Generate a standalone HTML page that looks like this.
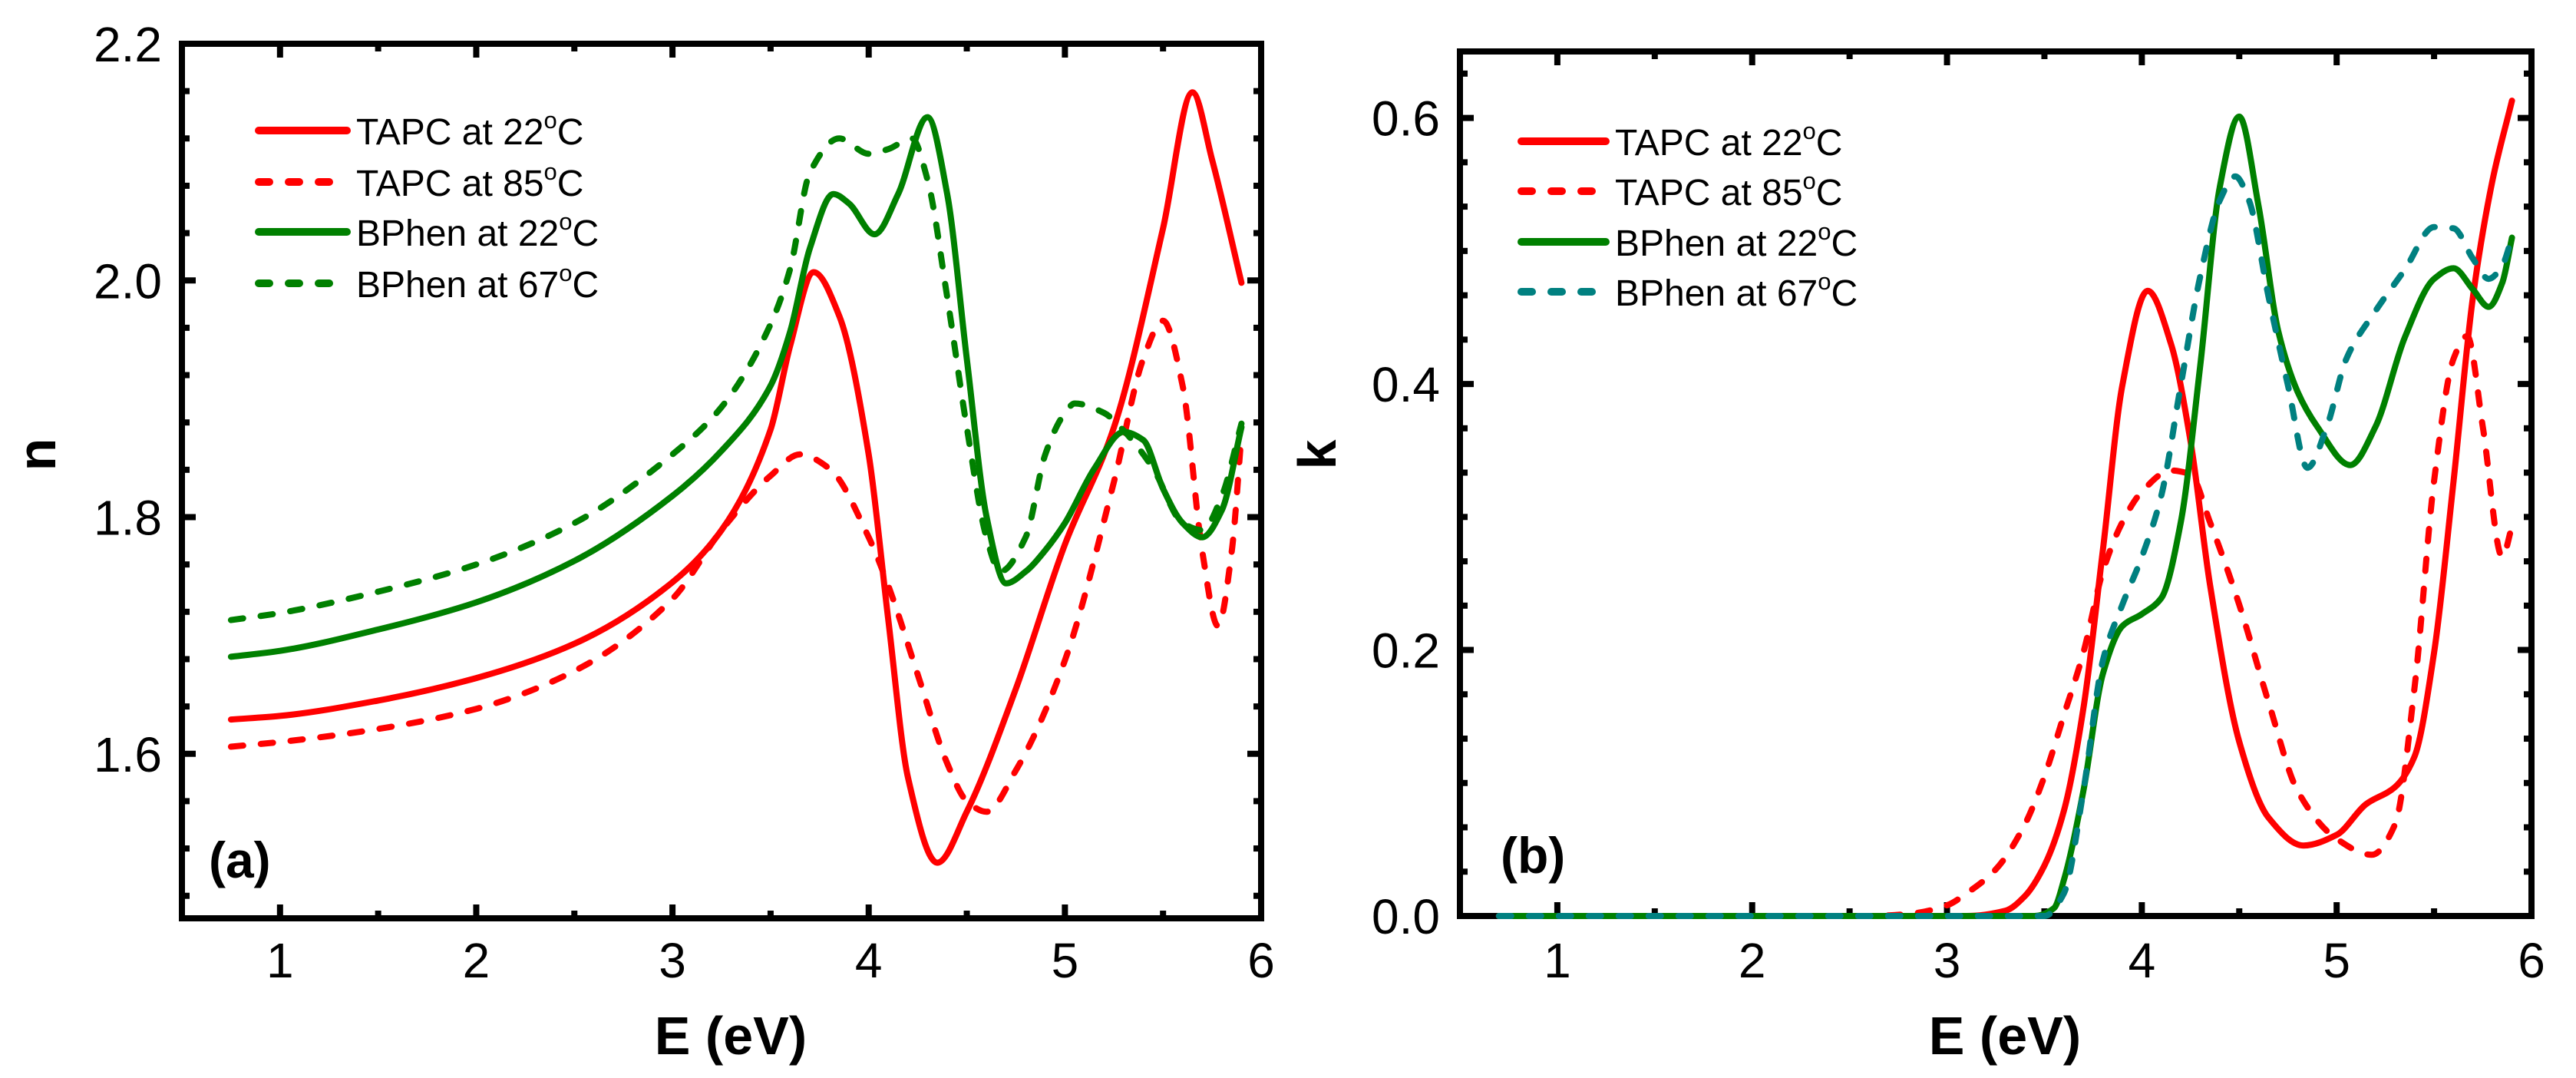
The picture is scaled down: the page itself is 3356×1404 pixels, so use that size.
<!DOCTYPE html>
<html><head><meta charset="utf-8"><style>
html,body{margin:0;padding:0;background:#fff;}
svg{display:block;font-family:"Liberation Sans",Arial,sans-serif;}
</style></head>
<body>
<svg id="fig" width="3356" height="1404" viewBox="0 0 3356 1404" xmlns="http://www.w3.org/2000/svg">
<g id="pa"></g>
<g id="pb"></g>
</svg>
<script>
// ---- Panel (a): refractive index n ----
const nTapc22X = [0.75,1.0,1.5,2.0,2.5,3.0,3.25,3.5,3.6,3.72,3.85,4.0,4.1,4.2,4.35,4.5,4.75,5.0,5.25,5.5,5.65,5.75,5.9];
const nTapc22Y = [1.629,1.632,1.645,1.664,1.693,1.745,1.789,1.874,1.945,2.007,1.970,1.853,1.713,1.580,1.508,1.551,1.655,1.777,1.876,2.044,2.159,2.102,1.998];
const nTapc85X = [0.75,1.0,1.5,2.0,2.5,3.0,3.25,3.5,3.65,3.8,4.0,4.1,4.25,4.4,4.5,4.6,4.75,5.0,5.25,5.4,5.5,5.6,5.7,5.78,5.85,5.9];
const nTapc85Y = [1.606,1.610,1.621,1.638,1.670,1.731,1.789,1.835,1.853,1.841,1.783,1.742,1.667,1.592,1.560,1.551,1.586,1.679,1.830,1.934,1.966,1.911,1.771,1.708,1.771,1.870];
const nBphen22X = [0.75,1.0,1.5,2.0,2.5,3.0,3.25,3.5,3.6,3.7,3.82,3.9,4.03,4.15,4.3,4.4,4.5,4.6,4.7,4.8,4.9,5.0,5.15,5.3,5.4,5.5,5.6,5.7,5.8,5.9];
const nBphen22Y = [1.682,1.687,1.705,1.728,1.763,1.818,1.856,1.911,1.957,2.027,2.073,2.065,2.039,2.073,2.138,2.073,1.934,1.801,1.744,1.754,1.772,1.795,1.841,1.872,1.865,1.824,1.795,1.783,1.806,1.876];
const nBphen67X = [0.75,1.0,1.5,2.0,2.5,3.0,3.25,3.5,3.6,3.7,3.85,4.0,4.1,4.22,4.3,4.4,4.5,4.6,4.67,4.8,4.9,5.0,5.05,5.2,5.3,5.45,5.6,5.7,5.8,5.9];
const nBphen67Y = [1.713,1.719,1.737,1.760,1.795,1.853,1.893,1.963,2.010,2.091,2.120,2.107,2.111,2.120,2.085,1.986,1.876,1.783,1.754,1.783,1.853,1.888,1.896,1.888,1.873,1.841,1.795,1.789,1.818,1.879];
const nTicks = [1.6,1.8,2.0,2.2];
const nTickLabels = ["1.6","1.8","2.0","2.2"];
const xTicks = [1,2,3,4,5,6];
const xTickLabels = ["1","2","3","4","5","6"];

// ---- Panel (b): extinction coefficient k ----
const kTapc22X = [0.7,3.1,3.3,3.4,3.5,3.6,3.7,3.8,3.9,4.03,4.15,4.25,4.35,4.5,4.65,4.83,5.0,5.15,5.3,5.4,5.5,5.6,5.7,5.8,5.9];
const kTapc22Y = [0,0,0.004,0.015,0.038,0.079,0.156,0.275,0.399,0.470,0.43,0.357,0.249,0.131,0.074,0.053,0.061,0.084,0.097,0.120,0.198,0.327,0.466,0.553,0.613];
const kTapc85X = [0.7,2.6,2.8,3.0,3.1,3.25,3.4,3.5,3.6,3.7,3.8,3.9,4.0,4.15,4.25,4.35,4.5,4.65,4.8,5.0,5.18,5.3,5.4,5.5,5.6,5.67,5.75,5.85,5.9];
const kTapc85Y = [0,0,0.0015,0.008,0.017,0.035,0.069,0.105,0.151,0.198,0.259,0.296,0.319,0.335,0.332,0.296,0.234,0.161,0.094,0.058,0.046,0.069,0.172,0.327,0.419,0.436,0.368,0.270,0.293];
const kBphen22X = [0.7,3.45,3.55,3.6,3.7,3.8,3.9,4.0,4.1,4.2,4.3,4.4,4.5,4.6,4.7,4.8,4.9,5.07,5.2,5.35,5.5,5.6,5.7,5.78,5.85,5.9];
const kBphen22Y = [0,0,0.006,0.027,0.094,0.182,0.218,0.227,0.239,0.296,0.414,0.548,0.601,0.533,0.440,0.394,0.368,0.339,0.368,0.435,0.479,0.487,0.471,0.458,0.476,0.510];
const kBphen67X = [0.7,3.5,3.6,3.7,3.8,3.9,4.0,4.1,4.2,4.3,4.4,4.48,4.55,4.65,4.75,4.85,4.95,5.05,5.2,5.35,5.5,5.6,5.7,5.78,5.85,5.9];
const kBphen67Y = [0,0,0.017,0.094,0.192,0.234,0.270,0.316,0.399,0.481,0.538,0.556,0.538,0.466,0.399,0.337,0.368,0.419,0.455,0.486,0.518,0.517,0.494,0.479,0.489,0.510];
const kTicks = [0.0,0.2,0.4,0.6];
const kTickLabels = ["0.0","0.2","0.4","0.6"];
const legendLabels = ["TAPC at 22","TAPC at 85","BPhen at 22","BPhen at 67"];

const NS = "http://www.w3.org/2000/svg";
function mk(parent, tag, attrs){
  const e = document.createElementNS(NS, tag);
  for (const k in attrs) e.setAttribute(k, attrs[k]);
  parent.appendChild(e);
  return e;
}
function smoothPath(pts){
  const n = pts.length;
  const dx=[], s=[];
  for (let i=0;i<n-1;i++){ dx[i]=pts[i+1][0]-pts[i][0]; s[i]=(pts[i+1][1]-pts[i][1])/dx[i]; }
  const m=[s[0]];
  for (let i=1;i<n-1;i++){
    if (s[i-1]*s[i]<=0) m[i]=0;
    else { const w1=2*dx[i]+dx[i-1], w2=dx[i]+2*dx[i-1]; m[i]=(w1+w2)/(w1/s[i-1]+w2/s[i]); }
  }
  m[n-1]=s[n-2];
  let d = "M" + pts[0][0].toFixed(1) + "," + pts[0][1].toFixed(1);
  for (let i=0;i<n-1;i++){
    const h=dx[i]/3;
    d += "C"+(pts[i][0]+h).toFixed(1)+","+(pts[i][1]+m[i]*h).toFixed(1)+" "+(pts[i+1][0]-h).toFixed(1)+","+(pts[i+1][1]-m[i+1]*h).toFixed(1)+" "+pts[i+1][0].toFixed(1)+","+pts[i+1][1].toFixed(1);
  }
  return d;
}

function panel(g, cfg){
  const L=cfg.L, R=cfg.R, T=cfg.T, B=cfg.B;
  const sx = v => L + (v - 0.5)/(6 - 0.5)*(R-L);
  const sy = v => B - (v - cfg.ymin)/(cfg.ymax - cfg.ymin)*(B-T);
  const fr = mk(g,"rect",{x:L,y:T,width:R-L,height:B-T,fill:"none",stroke:"#000","stroke-width":8});
  
  
  for (let v=0.5; v<=6.001; v+=0.5){
    const major = Math.abs(v-Math.round(v))<1e-6;
    const len = major?18:10, x=sx(v);
    mk(g,"line",{x1:x,y1:B,x2:x,y2:B-len,stroke:"#000","stroke-width":8});
    mk(g,"line",{x1:x,y1:T,x2:x,y2:T+len,stroke:"#000","stroke-width":8});
  }
  xTicks.forEach((v,i)=>{
    const t = mk(g,"text",{x:sx(v),y:1273,"font-size":64,"text-anchor":"middle",fill:"#000"});
    t.textContent = xTickLabels[i];
    
    
  });
  const n = Math.round((cfg.ymax-cfg.ymin)/cfg.minor);
  for (let j=0;j<=n+1;j++){
    const v = cfg.yMinorStart + j*cfg.minor;
    if (v>cfg.ymax+1e-6) break;
    const major = cfg.ticks.some(t=>Math.abs(t-v)<1e-6);
    const len = major?18:10, y=sy(v);
    mk(g,"line",{x1:L,y1:y,x2:L+len,y2:y,stroke:"#000","stroke-width":8});
    mk(g,"line",{x1:R,y1:y,x2:R-len,y2:y,stroke:"#000","stroke-width":8});
  }
  cfg.ticks.forEach((v,i)=>{
    const t = mk(g,"text",{x:L-26,y:sy(v)+23,"font-size":64,"text-anchor":"end",fill:"#000"});
    t.textContent = cfg.tickLabels[i];
    
    
  });
  cfg.series.forEach(s=>{
    const pts = s.x.map((xv,i)=>[sx(xv), sy(s.y[i])]);
    const p = mk(g,"path",{d:smoothPath(pts),fill:"none",stroke:s.color,"stroke-width":8,"stroke-linejoin":"round","stroke-linecap":"round"});
    if (s.dash) p.setAttribute("stroke-dasharray","16 23");
    
    
  });
  const xt = mk(g,"text",{x:(L+R)/2+12,y:1373,"font-size":70,"font-weight":"bold","text-anchor":"middle"});
  xt.textContent = "E (eV)";
  
  
  const yt = mk(g,"text",{x:0,y:0,"font-size":70,"font-weight":"bold","text-anchor":"middle",transform:"translate("+cfg.ytX+",592) rotate(-90)"});
  yt.textContent = cfg.ylabel;
  
  
  const pl = mk(g,"text",{x:cfg.plX,y:cfg.plY,"font-size":66,"font-weight":"bold"});
  pl.textContent = cfg.panelLabel;
  
  
  cfg.series.forEach((s,i)=>{
    const y = cfg.legY[i];
    const ln = mk(g,"line",{x1:cfg.legX1,y1:y,x2:s.dash?cfg.legX2-12:cfg.legX2,y2:y,stroke:s.color,"stroke-width":10,"stroke-linecap":"round"});
    if (s.dash) ln.setAttribute("stroke-dasharray","14 25");
    
    
    const t = mk(g,"text",{x:cfg.legX2+12,y:y+18,"font-size":48,fill:"#000"});
    t.appendChild(document.createTextNode(legendLabels[i]));
    const sp = mk(t,"tspan",{"font-size":31,dy:-21}); sp.textContent="o";
    const sp2 = mk(t,"tspan",{dy:21}); sp2.textContent="C";
    
    
  });
}

panel(document.getElementById("pa"),{
  L:237,R:1643,T:57,B:1196,ymin:1.461,ymax:2.2,minor:0.04,yMinorStart:1.48,
  ticks:nTicks,tickLabels:nTickLabels,ylabel:"n",ytX:72,panelLabel:"(a)",plX:272,plY:1143,
  legX1:337,legX2:452,legY:[170,237,302,369],
  series:[
    {name:"tapc-22c-n",x:nTapc22X,y:nTapc22Y,color:"#ff0000",dash:false},
    {name:"tapc-85c-n",x:nTapc85X,y:nTapc85Y,color:"#ff0000",dash:true},
    {name:"bphen-22c-n",x:nBphen22X,y:nBphen22Y,color:"#008000",dash:false},
    {name:"bphen-67c-n",x:nBphen67X,y:nBphen67Y,color:"#008000",dash:true}
  ]
});
panel(document.getElementById("pb"),{
  L:1902,R:3298,T:67,B:1193,ymin:0,ymax:0.65,minor:0.2/6,yMinorStart:0,
  ticks:kTicks,tickLabels:kTickLabels,ylabel:"k",ytX:1740,panelLabel:"(b)",plX:1955,plY:1137,
  legX1:1982,legX2:2092,legY:[184,249,315,380],
  series:[
    {name:"tapc-22c-k",x:kTapc22X,y:kTapc22Y,color:"#ff0000",dash:false},
    {name:"tapc-85c-k",x:kTapc85X,y:kTapc85Y,color:"#ff0000",dash:true},
    {name:"bphen-22c-k",x:kBphen22X,y:kBphen22Y,color:"#008000",dash:false},
    {name:"bphen-67c-k",x:kBphen67X,y:kBphen67Y,color:"#008080",dash:true}
  ]
});
</script>
</body></html>
